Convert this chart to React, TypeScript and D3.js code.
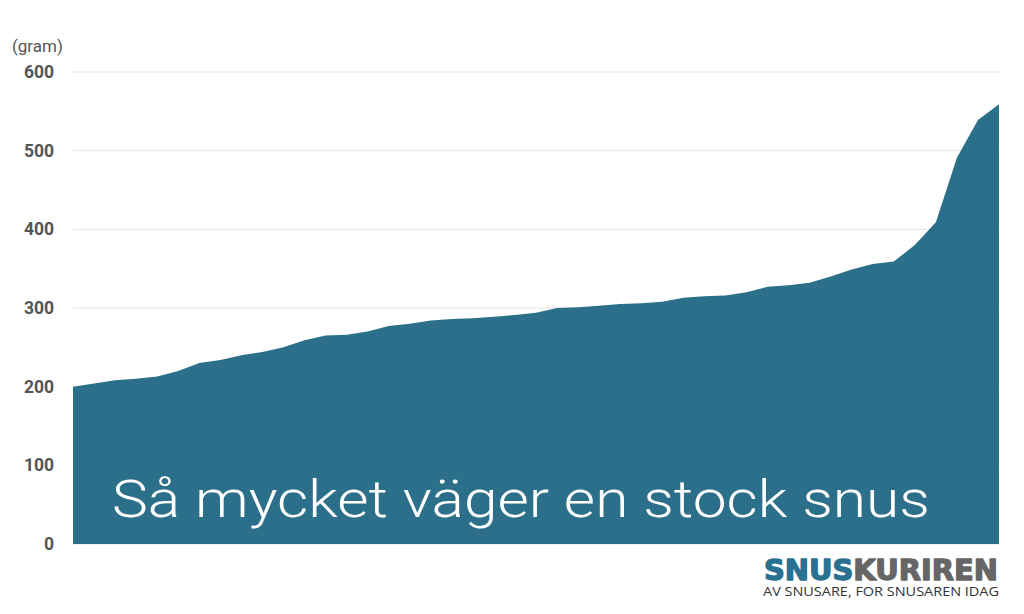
import React from "react";
import * as d3 from "d3";

const weights: number[] = [
  200, 204, 208, 210, 213, 220, 230, 234, 240, 244,
  250, 259, 265, 266, 270, 277, 280, 284, 286, 287,
  289, 291, 294, 300, 301, 303, 305, 306, 308, 313,
  315, 316, 320, 327, 329, 332, 340, 349, 356, 359,
  380, 409, 491, 539, 559,
];
const yTicks: number[] = [0, 100, 200, 300, 400, 500, 600];
const unitLabel = "(gram)";
const title = "Så mycket väger en stock snus";
const logoA = "SNUS";
const logoB = "KURIREN";
const tagline = "AV SNUSARE, FOR SNUSAREN IDAG";

const W = 1024;
const H = 614;
const left = 73;
const right = 999;
const top = 72;
const bottom = 544;

export default function App() {
  const x = d3.scaleLinear().domain([0, weights.length - 1]).range([left, right]);
  const y = d3.scaleLinear().domain([0, 600]).range([bottom, top]);
  const area = d3
    .area<number>()
    .x((_, i) => x(i))
    .y0(y(0))
    .y1((d) => y(d))
    .curve(d3.curveLinear);

  return (
    <svg
      width={W}
      height={H}
      style={{ position: "absolute", left: 0, top: 0, background: "#fff" }}
    >
      <rect width={W} height={H} fill="#fff" />
      {yTicks.map((t) => (
        <line
          key={"g" + t}
          x1={left}
          x2={1000}
          y1={y(t)}
          y2={y(t)}
          stroke="#e2e2e2"
          strokeWidth={1}
        />
      ))}
      <path d={area(weights) || ""} fill="#2c6f8b" />
      {yTicks.map((t) => (
        <text
          key={"t" + t}
          x={54}
          y={y(t) + 6}
          textAnchor="end"
          fontFamily="Roboto, sans-serif"
          fontWeight={700}
          fontSize={17.5}
          fill="#555"
        >
          {t}
        </text>
      ))}
      <text
        x={12}
        y={52}
        fontFamily="Roboto, sans-serif"
        fontSize={17}
        fill="#555"
      >
        {unitLabel}
      </text>
      <text
        x={112}
        y={517}
        fontFamily="Roboto, sans-serif"
        fontWeight={300}
        fontSize={52}
        fill="#fff"
        textLength={818}
        lengthAdjust="spacingAndGlyphs"
      >
        {title}
      </text>
      <text
        x={764}
        y={580}
        fontFamily="'DejaVu Sans', sans-serif"
        fontWeight={700}
        fontSize={28}
        strokeWidth={1.3}
        strokeLinejoin="round"
        textLength={234}
        lengthAdjust="spacingAndGlyphs"
      >
        <tspan fill="#2a7090" stroke="#2a7090">{logoA}</tspan>
        <tspan fill="#666" stroke="#666">{logoB}</tspan>
      </text>
      <text
        x={763}
        y={596}
        fontFamily="'Open Sans', sans-serif"
        fontSize={12}
        fill="#333"
        textLength={236}
        lengthAdjust="spacingAndGlyphs"
      >
        {tagline}
      </text>
    </svg>
  );
}
